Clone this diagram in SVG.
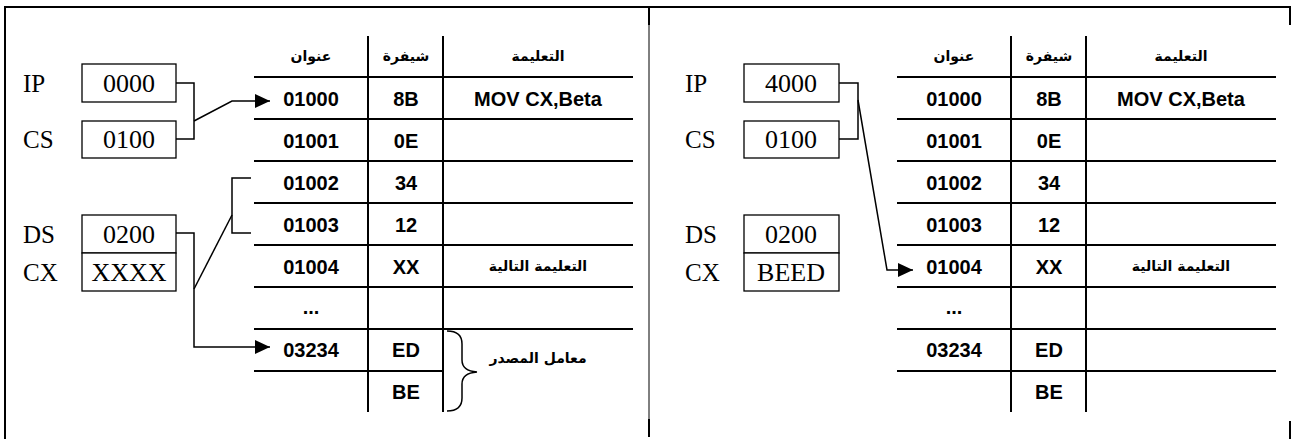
<svg xmlns="http://www.w3.org/2000/svg" width="1293" height="439" viewBox="0 0 1293 439">
<style>
.frame{stroke:#000;stroke-width:2;fill:none}
.thin{stroke:#000;stroke-width:1;fill:none}
.grid{stroke:#000;stroke-width:2;fill:none}
.box{stroke:#000;stroke-width:1.3;fill:#fff}
.conn{stroke:#000;stroke-width:1.5;fill:none}
.reg{font-family:"Liberation Serif","Times New Roman",serif;font-size:25px;fill:#000}
.val{font-family:"Liberation Serif","Times New Roman",serif;font-size:26px;fill:#000;text-anchor:middle}
.cell{font-family:"Liberation Sans",Arial,sans-serif;font-size:20px;font-weight:bold;fill:#000;text-anchor:middle}
.ar{font-family:"DejaVu Sans","Noto Sans",sans-serif;font-size:14px;font-weight:bold;fill:#000;text-anchor:middle}
</style>
<defs>
<marker id="ah" markerUnits="userSpaceOnUse" markerWidth="16" markerHeight="14" refX="15" refY="7" orient="auto">
<path d="M0,0 L15,7 L0,14 z" fill="#000"/>
</marker>
</defs>
<rect width="1293" height="439" fill="#fff"/>
<g id="frame">
<line class="frame" x1="4" y1="7" x2="1291" y2="7"/>
<line class="frame" x1="5" y1="6" x2="5" y2="439"/>
<line class="thin" x1="649" y1="7" x2="649" y2="437"/>
<line class="frame" x1="649" y1="7" x2="649" y2="25"/>
<line class="frame" x1="649" y1="419" x2="649" y2="437"/>
<line class="frame" x1="1290" y1="6" x2="1290" y2="25"/>
<line class="frame" x1="1290" y1="421" x2="1290" y2="439"/>
</g>
<!-- LEFT PANEL -->
<g id="left-IP"><text class="reg" x="23" y="92">IP</text><rect class="box" x="82" y="64" width="94" height="38"/><text class="val" x="129" y="92">0000</text></g>
<g id="left-CS"><text class="reg" x="23" y="148">CS</text><rect class="box" x="82" y="121" width="94" height="37"/><text class="val" x="129" y="148">0100</text></g>
<g id="left-DS"><text class="reg" x="23" y="243">DS</text><rect class="box" x="82" y="215" width="94" height="38"/><text class="val" x="129" y="243">0200</text></g>
<g id="left-CX"><text class="reg" x="23" y="281">CX</text><rect class="box" x="82" y="253" width="94" height="38"/><text class="val" x="129" y="281">XXXX</text></g>
<g id="left-table">
<line class="grid" x1="368" y1="36" x2="368" y2="412"/>
<line class="grid" x1="443" y1="36" x2="443" y2="412"/>
<line class="grid" x1="254" y1="77" x2="633" y2="77"/>
<line class="grid" x1="254" y1="119" x2="633" y2="119"/>
<line class="grid" x1="254" y1="161" x2="633" y2="161"/>
<line class="grid" x1="254" y1="203" x2="633" y2="203"/>
<line class="grid" x1="254" y1="245" x2="633" y2="245"/>
<line class="grid" x1="254" y1="287" x2="633" y2="287"/>
<line class="grid" x1="254" y1="329" x2="633" y2="329"/>
<line class="grid" x1="254" y1="371" x2="443" y2="371"/>
<text class="ar" x="311" y="61">عنوان</text>
<text class="ar" x="406" y="61">شيفرة</text>
<text class="ar" x="538" y="61">التعليمة</text>
<text class="cell" x="311" y="106">01000</text><text class="cell" x="406" y="106">8B</text><text class="cell" x="538" y="106">MOV CX,Beta</text>
<text class="cell" x="311" y="148">01001</text><text class="cell" x="406" y="148">0E</text>
<text class="cell" x="311" y="190">01002</text><text class="cell" x="406" y="190">34</text>
<text class="cell" x="311" y="232">01003</text><text class="cell" x="406" y="232">12</text>
<text class="cell" x="311" y="274">01004</text><text class="cell" x="406" y="274">XX</text><text class="ar" x="538" y="271">التعليمة التالية</text>
<text class="cell" x="311" y="314">...</text>
<text class="cell" x="311" y="357">03234</text><text class="cell" x="406" y="357">ED</text>
<text class="cell" x="406" y="399">BE</text>
<path class="conn" d="M447,331 Q462,331 462,344 L462,360 Q462,371 477,372 Q462,373 462,384 L462,398 Q462,411 447,411"/>
<text class="ar" x="538" y="363">معامل المصدر</text>
</g>
<!-- RIGHT PANEL -->
<g id="right-IP"><text class="reg" x="685" y="92">IP</text><rect class="box" x="744" y="64" width="95" height="38"/><text class="val" x="791" y="92">4000</text></g>
<g id="right-CS"><text class="reg" x="685" y="148">CS</text><rect class="box" x="744" y="121" width="95" height="37"/><text class="val" x="791" y="148">0100</text></g>
<g id="right-DS"><text class="reg" x="685" y="243">DS</text><rect class="box" x="744" y="215" width="95" height="38"/><text class="val" x="791" y="243">0200</text></g>
<g id="right-CX"><text class="reg" x="685" y="281">CX</text><rect class="box" x="744" y="253" width="95" height="38"/><text class="val" x="791" y="281">BEED</text></g>
<g id="right-table">
<line class="grid" x1="1011" y1="36" x2="1011" y2="412"/>
<line class="grid" x1="1086" y1="36" x2="1086" y2="412"/>
<line class="grid" x1="897" y1="77" x2="1276" y2="77"/>
<line class="grid" x1="897" y1="119" x2="1276" y2="119"/>
<line class="grid" x1="897" y1="161" x2="1276" y2="161"/>
<line class="grid" x1="897" y1="203" x2="1276" y2="203"/>
<line class="grid" x1="897" y1="245" x2="1276" y2="245"/>
<line class="grid" x1="897" y1="287" x2="1276" y2="287"/>
<line class="grid" x1="897" y1="329" x2="1276" y2="329"/>
<line class="grid" x1="897" y1="371" x2="1276" y2="371"/>
<text class="ar" x="954" y="61">عنوان</text>
<text class="ar" x="1049" y="61">شيفرة</text>
<text class="ar" x="1181" y="61">التعليمة</text>
<text class="cell" x="954" y="106">01000</text><text class="cell" x="1049" y="106">8B</text><text class="cell" x="1181" y="106">MOV CX,Beta</text>
<text class="cell" x="954" y="148">01001</text><text class="cell" x="1049" y="148">0E</text>
<text class="cell" x="954" y="190">01002</text><text class="cell" x="1049" y="190">34</text>
<text class="cell" x="954" y="232">01003</text><text class="cell" x="1049" y="232">12</text>
<text class="cell" x="954" y="274">01004</text><text class="cell" x="1049" y="274">XX</text><text class="ar" x="1181" y="271">التعليمة التالية</text>
<text class="cell" x="954" y="314">...</text>
<text class="cell" x="954" y="357">03234</text><text class="cell" x="1049" y="357">ED</text>
<text class="cell" x="1049" y="399">BE</text>
</g>
<g id="connectors">
<polyline class="conn" points="176,83 194,83 194,139 176,139"/>
<polyline class="conn" points="194,121 232,101 270,101" marker-end="url(#ah)"/>
<polyline class="conn" points="251,178 232,178 232,233 251,233"/>
<line class="conn" x1="232" y1="215" x2="194" y2="289"/>
<polyline class="conn" points="176,233 194,233 194,347 270,347" marker-end="url(#ah)"/>
<polyline class="conn" points="839,83 858,83 858,139 839,139"/>
<polyline class="conn" points="858,100 887,270 913,270" marker-end="url(#ah)"/>
</g>
</svg>
